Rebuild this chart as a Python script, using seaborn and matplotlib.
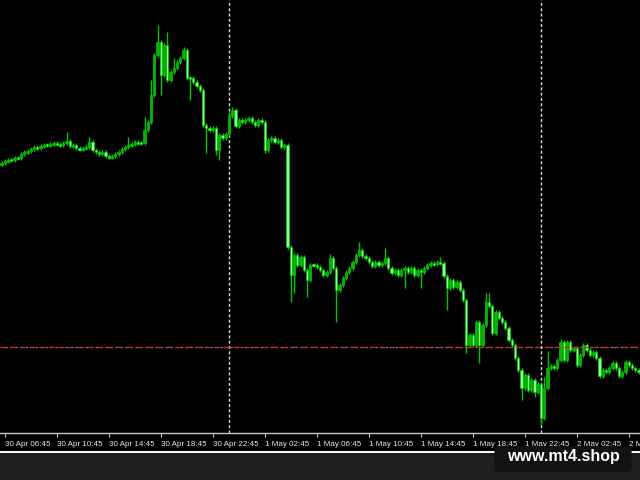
import numpy as np
import pandas as pd
import seaborn as sns
import matplotlib
matplotlib.use("Agg")
import matplotlib.pyplot as plt
from matplotlib.patches import Rectangle, FancyBboxPatch
from matplotlib.lines import Line2D

# ---------------- data (price points, 15-minute bars from 30 Apr 06:30) ----------------
first_open = 336
closes = [
    337, 339, 340, 340, 342, 342, 346, 348, 349, 351,
    353, 352, 354, 355, 355, 356, 357, 356, 355, 357,
    359, 354, 355, 352, 351, 352, 353, 358, 350, 348,
    346, 348, 344, 343, 344, 346, 348, 351, 353, 355,
    356, 358, 357, 357, 370, 378, 405, 445, 458, 425,
    455, 420, 428, 432, 438, 442, 450, 422, 422, 418,
    414, 410, 375, 372, 370, 372, 350, 365, 362, 366,
    384, 390, 374, 380, 378, 380, 382, 378, 375, 380,
    378, 350, 360, 362, 358, 360, 353, 355, 253, 225,
    245, 235, 243, 230, 220, 235, 235, 233, 230, 225,
    228, 242, 232, 210, 215, 222, 228, 232, 238, 245,
    250, 244, 242, 238, 234, 238, 235, 237, 242, 232,
    227, 230, 225, 230, 232, 228, 232, 225, 230, 228,
    232, 235, 237, 236, 238, 237, 224, 212, 220, 213,
    218, 210, 200, 155, 165, 155, 178, 155, 175, 198,
    194, 167, 188, 182, 178, 172, 160, 155, 142, 130,
    112, 125, 110, 120, 108, 116, 82, 112, 132, 134,
    132, 140, 158, 140, 158, 150, 152, 135, 145, 155,
    150, 145, 148, 142, 124, 130, 128, 132, 137, 132,
    124, 128, 138, 135, 132, 130, 128,
]
upper_wick = [
    2, 2, 2, 2, 2, 2, 2, 2, 2, 2,
    2, 2, 2, 2, 2, 2, 2, 2, 2, 2,
    9, 2, 2, 2, 2, 2, 2, 5, 2, 2,
    2, 2, 2, 2, 2, 2, 2, 2, 2, 8,
    2, 2, 2, 2, 13, 2, 15, 2, 17, 2,
    2, 13, 2, 10, 2, 2, 3, 2, 2, 2,
    2, 2, 2, 2, 2, 2, 2, 2, 2, 2,
    4, 3, 2, 2, 2, 2, 2, 2, 2, 2,
    2, 2, 2, 2, 2, 2, 2, 2, 2, 2,
    2, 2, 2, 2, 2, 2, 2, 2, 2, 2,
    2, 4, 2, 2, 2, 2, 2, 2, 2, 2,
    8, 2, 2, 2, 2, 2, 2, 2, 10, 2,
    2, 2, 2, 2, 2, 2, 2, 2, 2, 2,
    2, 2, 2, 2, 2, 5, 2, 2, 2, 2,
    2, 2, 2, 2, 2, 2, 2, 2, 2, 9,
    9, 2, 2, 2, 2, 2, 2, 2, 2, 2,
    2, 2, 2, 2, 2, 2, 2, 11, 17, 2,
    2, 2, 3, 2, 2, 2, 2, 2, 2, 2,
    2, 2, 2, 2, 2, 2, 2, 2, 2, 2,
    2, 2, 2, 2, 2, 2, 2,
]
lower_wick = [
    2, 2, 2, 2, 2, 2, 2, 2, 2, 2,
    2, 2, 2, 2, 2, 2, 2, 2, 2, 2,
    2, 2, 2, 2, 2, 2, 2, 2, 2, 2,
    2, 2, 2, 2, 2, 2, 2, 2, 2, 2,
    2, 2, 2, 2, 2, 2, 2, 2, 2, 20,
    2, 2, 2, 2, 2, 2, 2, 2, 22, 2,
    2, 2, 2, 25, 2, 2, 5, 10, 2, 2,
    2, 2, 2, 2, 2, 2, 2, 2, 2, 2,
    2, 3, 2, 2, 2, 2, 2, 2, 2, 27,
    18, 2, 2, 2, 17, 2, 2, 2, 2, 2,
    2, 2, 2, 32, 2, 2, 2, 2, 2, 2,
    2, 2, 2, 2, 2, 2, 2, 2, 2, 2,
    2, 2, 2, 2, 18, 2, 2, 2, 2, 16,
    2, 2, 2, 2, 2, 2, 2, 22, 2, 2,
    2, 2, 2, 8, 2, 2, 2, 18, 2, 2,
    2, 2, 2, 2, 2, 2, 2, 2, 2, 2,
    12, 2, 2, 2, 5, 2, 7, 2, 2, 2,
    2, 2, 2, 2, 2, 2, 2, 2, 2, 2,
    2, 2, 2, 2, 2, 2, 2, 2, 2, 2,
    2, 2, 2, 2, 2, 2, 2,
]
tick_bars = [1, 17, 33, 49, 65, 81, 97, 113, 129, 145, 161, 177, 193]
tick_labels = ["30 Apr 06:45", "30 Apr 10:45", "30 Apr 14:45", "30 Apr 18:45",
               "30 Apr 22:45", "1 May 02:45", "1 May 06:45", "1 May 10:45",
               "1 May 14:45", "1 May 18:45", "1 May 22:45", "2 May 02:45",
               "2 May 06:45"]
day_separator_bars = [70, 166]
level_price = 153
watermark = "www.mt4.shop"

# ---------------- build OHLC table ----------------
closes_a = np.array(closes, dtype=float)
opens_a = np.concatenate([[first_open], closes_a[:-1]])
df = pd.DataFrame({
    "bar": np.arange(len(closes_a)),
    "open": opens_a,
    "close": closes_a,
})
df["high"] = np.maximum(df["open"], df["close"]) + np.array(upper_wick)
df["low"] = np.minimum(df["open"], df["close"]) - np.array(lower_wick)
df["bull"] = df["close"] > df["open"]

# ---------------- style ----------------
sns.set_theme(style="dark", rc={
    "axes.facecolor": "black",
    "figure.facecolor": "black",
    "axes.edgecolor": "#c8c8c8",
    "xtick.color": "#c8c8c8",
    "text.color": "white",
})
plt.rcParams["font.family"] = ["Liberation Sans", "DejaVu Sans"]

fig = plt.figure(figsize=(6.4, 4.8), dpi=100, facecolor="black")
ax = fig.add_axes([0, 47 / 480, 1, 433 / 480])
ax.set_facecolor("black")

# wicks
ax.vlines(df["bar"], df["low"], df["high"], color="#00c800", lw=1.0, zorder=3)
# bodies
body_h = np.maximum((df["close"] - df["open"]).abs(), 1.5)
body_b = np.minimum(df["open"], df["close"]) - np.where(
    (df["close"] - df["open"]).abs() < 1.5, 0.75, 0)
cols = np.where(df["bull"], "#0fae0f", "#8cff8c")
ax.bar(df["bar"], body_h, bottom=body_b, width=0.72, color=cols,
       edgecolor="#00c800", linewidth=0.5, zorder=4)

# day separators
for b in day_separator_bars:
    ax.axvline(b, color="#d8d8d8", lw=1.0, ls=(0, (2.2, 1.6)), zorder=2)

# horizontal level
ax.axhline(level_price, color="#7a7a7a", lw=0.9, ls=(0, (2, 2)), zorder=1)
ax.axhline(level_price, color="#d42020", lw=1.0, ls=(0, (4, 3)), zorder=5)

ax.set_xlim(-1.5 / 3.25, (640 - 1.5) / 3.25)
ax.set_ylim(67, 500)
ax.set_yticks([])
ax.set_xticks(tick_bars)
ax.set_xticklabels(tick_labels, ha="left", fontsize=5.8, color="#e8e8e8")
ax.tick_params(axis="x", direction="out", length=3, width=0.8, pad=3,
               color="#c8c8c8", bottom=True)
for s in ["top", "left", "right"]:
    ax.spines[s].set_visible(False)
ax.spines["bottom"].set_color("#c8c8c8")
ax.spines["bottom"].set_linewidth(1.0)
ax.grid(False)
ax.set_xlabel("")
ax.set_ylabel("")

# bottom area
fig.patches.append(Rectangle((0, 0), 1, 28 / 480, transform=fig.transFigure,
                             facecolor="#1e1e1e", edgecolor="none", zorder=0))
fig.lines.append(Line2D([0, 1], [28 / 480, 28 / 480], transform=fig.transFigure,
                        color="white", lw=1.4, zorder=1))
fig.patches.append(FancyBboxPatch((497 / 640, 10 / 480), 132 / 640, 22 / 480,
                                  boxstyle="round,pad=0.004,rounding_size=0.008",
                                  transform=fig.transFigure, facecolor="#121212",
                                  edgecolor="none", zorder=2))
fig.text(563 / 640, 23 / 480, watermark, ha="center", va="center",
         fontsize=11.5, fontweight="bold", color="white", zorder=3)

fig.savefig("out.png", dpi=100, facecolor="black")
